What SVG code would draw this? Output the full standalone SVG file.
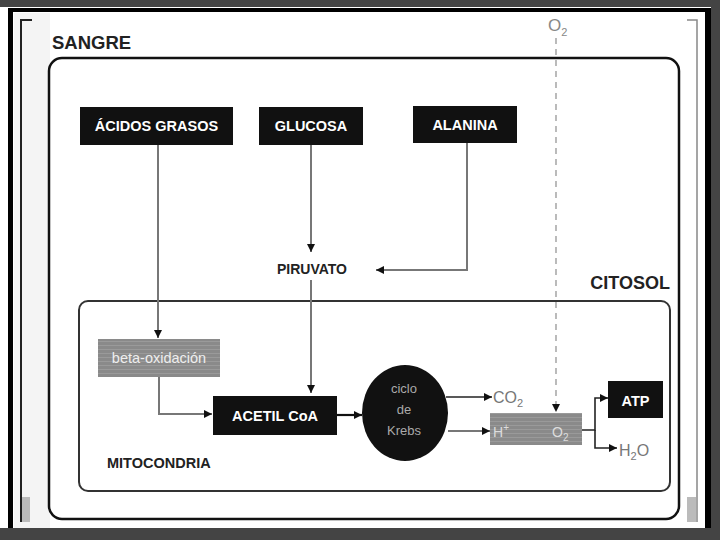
<svg xmlns="http://www.w3.org/2000/svg" width="720" height="540" viewBox="0 0 720 540">
<defs>
<style>
.t{font-family:"Liberation Sans",Arial,sans-serif;}
.box{fill:#111;}
.wt{fill:#fff;font-weight:bold;font-size:14.5px;text-anchor:middle;}
.lbl{fill:#222;font-weight:bold;}
.ln{fill:none;stroke:#777;stroke-width:2;}
.dk{fill:none;stroke:#222;stroke-width:1.6;}
.gt{fill:#777;font-size:16px;}
</style>
<marker id="ah" viewBox="0 0 10 10" refX="10" refY="5" markerWidth="9" markerHeight="8" markerUnits="userSpaceOnUse" orient="auto">
<path d="M0,0 L10,5 L0,10 z" fill="#111"/>
</marker>
<pattern id="tex" width="6" height="4" patternUnits="userSpaceOnUse">
<rect width="6" height="4" fill="#8a8a8a"/>
<rect y="1" width="6" height="1" fill="#9a9a9a"/>
</pattern>
</defs>
<!-- frame -->
<rect x="0" y="0" width="720" height="540" fill="#444"/>
<rect x="0" y="7" width="711" height="521" fill="#fff"/>
<rect x="8" y="8" width="5" height="520" fill="#000"/>
<rect x="8" y="8" width="703" height="4" fill="#000"/>
<rect x="705" y="8" width="6" height="520" fill="#000"/>
<rect x="14" y="13" width="36" height="515" fill="#f4f4f4"/>
<path d="M21,522 V20 H32" fill="none" stroke="#222" stroke-width="2"/>
<path d="M687,20 H697 V522" fill="none" stroke="#888" stroke-width="1.5"/>
<rect x="22" y="497" width="8" height="25" fill="#bbb"/>
<rect x="687" y="497" width="9" height="25" fill="#bbb"/>

<g id="sangre">
<rect x="49" y="58" width="630" height="461" rx="13" fill="#fff" stroke="#111" stroke-width="2.5"/>
<text class="t lbl" x="52" y="49" font-size="18.5">SANGRE</text>
</g>
<g id="citosol">
<text class="t lbl" x="670" y="289" font-size="18" text-anchor="end">CITOSOL</text>
</g>
<g id="mitocondria">
<rect x="79" y="301" width="591" height="190" rx="9" fill="none" stroke="#333" stroke-width="2"/>
<text class="t lbl" x="107" y="468" font-size="14.5">MITOCONDRIA</text>
</g>

<g id="o2-top">
<text class="t" x="548" y="31" font-size="17" fill="#888">O<tspan font-size="11" dy="5">2</tspan></text>
</g>

<g id="connectors">
<path class="ln" d="M158,145 V338" marker-end="url(#ah)"/>
<path class="ln" d="M311,145 V252" marker-end="url(#ah)"/>
<path class="ln" d="M467,143 V270 H376" marker-end="url(#ah)"/>
<path class="ln" d="M311,280 V393" marker-end="url(#ah)"/>
<path class="ln" d="M159,377 V414 H212" marker-end="url(#ah)"/>
<path d="M337,415 H362" fill="none" stroke="#111" stroke-width="2.2" marker-end="url(#ah)"/>
<path class="dk" d="M446,397 H492" marker-end="url(#ah)"/>
<path class="ln" d="M448,431 H490" marker-end="url(#ah)"/>
<path class="dk" d="M582,430 H595 V398 H608" marker-end="url(#ah)"/>
<path class="dk" d="M595,430 V448 H617" marker-end="url(#ah)"/>
<path d="M556,38 V412" fill="none" stroke="#aaa" stroke-width="1.6" stroke-dasharray="6,5" marker-end="url(#ah)"/>
</g>

<g id="acidos">
<rect class="box" x="80" y="107" width="153" height="38"/>
<text class="t wt" x="156.5" y="131">ÁCIDOS GRASOS</text>
</g>
<g id="glucosa">
<rect class="box" x="259" y="107" width="104" height="38"/>
<text class="t wt" x="311" y="131">GLUCOSA</text>
</g>
<g id="alanina">
<rect class="box" x="413" y="106" width="104" height="37"/>
<text class="t wt" x="465" y="130">ALANINA</text>
</g>
<g id="piruvato">
<text class="t lbl" x="312" y="274" font-size="14" text-anchor="middle">PIRUVATO</text>
</g>
<g id="beta">
<rect x="98" y="339" width="122" height="38" fill="url(#tex)"/>
<text class="t" x="159" y="363" font-size="14.5" fill="#eee" text-anchor="middle">beta-oxidación</text>
</g>
<g id="acetil">
<rect class="box" x="213" y="396" width="124" height="39"/>
<text class="t wt" x="275" y="421" font-size="15">ACETIL CoA</text>
</g>
<g id="krebs">
<ellipse cx="405" cy="413" rx="43" ry="48" fill="#111"/>
<text class="t" x="404" y="393" font-size="13" fill="#aaa" text-anchor="middle">ciclo</text>
<text class="t" x="404" y="414" font-size="13" fill="#aaa" text-anchor="middle">de</text>
<text class="t" x="404" y="435" font-size="13" fill="#aaa" text-anchor="middle">Krebs</text>
</g>
<g id="co2">
<text class="t gt" x="493" y="403">CO<tspan font-size="11" dy="4">2</tspan></text>
</g>
<g id="cadena">
<rect x="490" y="413" width="92" height="32" fill="url(#tex)"/>
<text class="t" x="493" y="437" font-size="14" fill="#ddd">H<tspan font-size="10" dy="-6">+</tspan></text>
<text class="t" x="552" y="437" font-size="14" fill="#ddd">O<tspan font-size="10" dy="4">2</tspan></text>
</g>
<g id="atp">
<rect class="box" x="608" y="381" width="55" height="37"/>
<text class="t wt" x="635.5" y="406" font-size="18.5">ATP</text>
</g>
<g id="h2o">
<text class="t gt" x="619" y="456">H<tspan font-size="11" dy="4">2</tspan><tspan dy="-4">O</tspan></text>
</g>
</svg>
